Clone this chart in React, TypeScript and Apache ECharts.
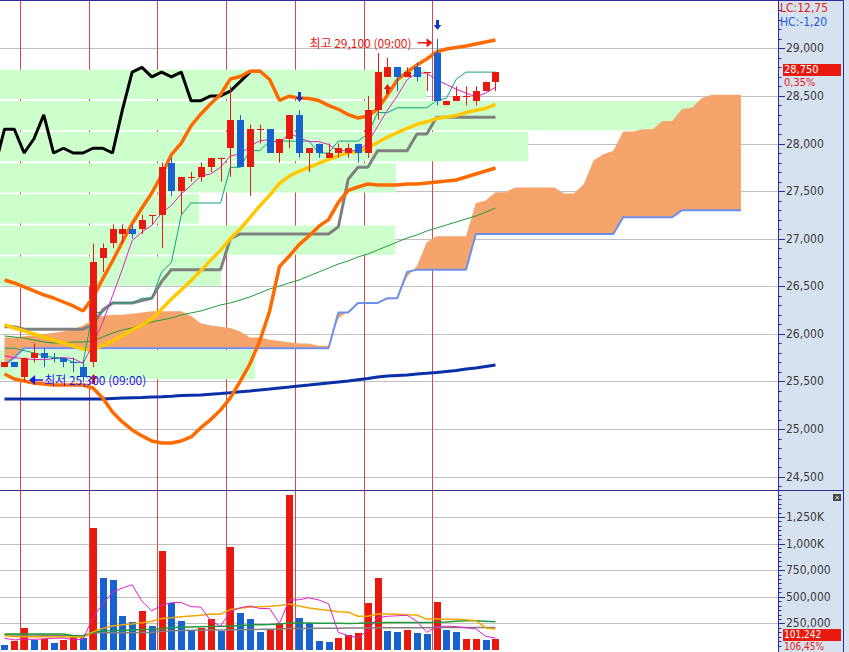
import React, { useEffect, useRef } from "react";
import * as echarts from "echarts";

// ---------- 60-minute bars (oldest -> newest) ----------
const opens = [25650, 25700, 25550, 25750, 25800, 25750, 25750, 25700, 25650, 25700,
  26800, 26950, 27050, 27100, 27100, 27250, 27250, 27800, 27500, 27650,
  27650, 27750, 27850, 27950, 28250, 27750, 28150, 28150, 27900, 28050,
  28300, 27900, 28000, 27850, 27900, 27900, 28000, 27900, 28350, 28700,
  28800, 28700, 28800, 28750, 28950, 28400, 28450, 28500, 28450, 28550, 28650];
const highs = [25700, 25700, 25750, 25900, 25850, 25800, 25750, 25750, 25700, 26950,
  26950, 27150, 27150, 27150, 27250, 27250, 27800, 27850, 27650, 27700,
  27800, 27850, 27850, 28600, 28300, 28200, 28200, 28150, 28050, 28300,
  28350, 27950, 28000, 28000, 28000, 28000, 28000, 28500, 28950, 28900,
  28800, 28800, 28850, 28750, 29100, 28450, 28600, 28600, 28600, 28650, 28750];
const lows = [25650, 25650, 25500, 25700, 25650, 25700, 25650, 25600, 25500, 25650,
  26650, 26900, 26950, 27000, 27050, 27150, 26900, 27450, 27250, 27600,
  27600, 27700, 27600, 27650, 27750, 27450, 28000, 27900, 27800, 27950,
  27850, 27700, 27850, 27850, 27850, 27850, 27800, 27850, 28250, 28700,
  28550, 28700, 28650, 28550, 28400, 28400, 28450, 28400, 28400, 28550, 28550];
const closes = [25700, 25650, 25750, 25800, 25750, 25750, 25700, 25700, 25550, 26750,
  26900, 27100, 27100, 27050, 27200, 27250, 27750, 27500, 27650, 27650,
  27750, 27850, 27850, 28250, 27750, 28150, 28150, 27900, 28050, 28300,
  27900, 27950, 27900, 27900, 27950, 27950, 27900, 28350, 28750, 28800,
  28700, 28750, 28700, 28750, 28450, 28450, 28500, 28500, 28550, 28650, 28750];

// ---------- traded volume ----------
const volumes = [50000, 81000, 203000, 94000, 100000, 69000, 97000, 122000, 109000, 1143000,
  680000, 654000, 322000, 266000, 369000, 222000, 927000, 442000, 269000, 175000,
  203000, 288000, 179000, 964000, 350000, 288000, 165000, 188000, 257000, 1453000,
  297000, 257000, 87000, 78000, 109000, 141000, 156000, 438000, 673000, 175000,
  165000, 184000, 156000, 147000, 447000, 184000, 165000, 100000, 100000, 95107, 101242];
// 1 = volume bar drawn as rising (red), 0 = falling (blue)
const volumeRising = [0, 1, 1, 0, 1, 0, 1, 1, 0, 1,
  0, 0, 0, 0, 1, 0, 1, 0, 0, 0,
  1, 1, 0, 1, 0, 0, 0, 1, 1, 1,
  0, 0, 0, 0, 1, 1, 1, 1, 1, 0,
  0, 1, 0, 0, 1, 0, 0, 1, 1, 0, 1];

// first bar (09:00) of each session
const sessionStarts = [2, 9, 16, 23, 30, 37, 44];

// ---------- price overlays ----------
const bollingerUpper = [26566, 26535, 26493, 26451, 26409, 26377, 26335, 26293, 26241, 26381,
  26577, 26766, 26965, 27160, 27323, 27480, 27669, 27884, 28005, 28186,
  28310, 28418, 28515, 28678, 28704, 28759, 28762, 28672, 28454, 28497,
  28477, 28473, 28451, 28400, 28359, 28303, 28268, 28289, 28362, 28509,
  28667, 28751, 28825, 28888, 28961, 28993, 29008, 29024, 29045, 29066, 29087];
const bollingerMid = [26094, 26062, 26031, 25999, 25967, 25936, 25904, 25873, 25841, 25831,
  25878, 25926, 25983, 26041, 26094, 26160, 26262, 26367, 26462, 26562,
  26665, 26775, 26880, 27002, 27102, 27222, 27345, 27455, 27580, 27658,
  27708, 27750, 27790, 27832, 27870, 27905, 27912, 27955, 28010, 28068,
  28115, 28160, 28202, 28228, 28262, 28278, 28295, 28325, 28350, 28368, 28410];
const bollingerLower = [25579, 25526, 25505, 25484, 25474, 25463, 25463, 25463, 25463, 25432,
  25327, 25180, 25075, 24991, 24928, 24875, 24854, 24854, 24875, 24917,
  25015, 25100, 25200, 25327, 25501, 25686, 25928, 26238, 26706, 26818,
  26938, 27027, 27129, 27200, 27381, 27507, 27543, 27575, 27564, 27564,
  27564, 27575, 27575, 27585, 27596, 27606, 27617, 27648, 27680, 27711, 27743];
const longMA = [25316, 25316, 25316, 25316, 25316, 25316, 25316, 25316, 25316, 25316,
  25316, 25322, 25327, 25330, 25333, 25337, 25340, 25345, 25352, 25356,
  25358, 25367, 25374, 25382, 25393, 25401, 25411, 25421, 25432, 25442,
  25453, 25463, 25474, 25484, 25495, 25505, 25519, 25532, 25547, 25558,
  25563, 25568, 25579, 25586, 25594, 25605, 25616, 25631, 25642, 25658, 25673];
const midMA = [25978, 25967, 25957, 25936, 25915, 25904, 25904, 25915, 25915, 25925,
  25967, 26009, 26041, 26062, 26094, 26125, 26146, 26167, 26199, 26220,
  26241, 26272, 26304, 26325, 26356, 26388, 26430, 26472, 26503, 26535,
  26566, 26608, 26650, 26692, 26734, 26766, 26808, 26839, 26881, 26923,
  26965, 27007, 27039, 27081, 27112, 27144, 27175, 27207, 27238, 27280, 27322];
const ma5 = [25770, 25750, 25740, 25730, 25730, 25740, 25750, 25740, 25690, 25890,
  26120, 26400, 26680, 26980, 27070, 27140, 27270, 27350, 27470, 27560,
  27660, 27680, 27750, 27870, 27890, 27970, 28030, 28040, 28000, 28110,
  28060, 28020, 28020, 27990, 27920, 27930, 27920, 28010, 28180, 28350,
  28500, 28670, 28740, 28740, 28670, 28620, 28570, 28530, 28490, 28530, 28590];

// Ichimoku
const tenkan = [25850, 25850, 25825, 25800, 25775, 25750, 25750, 25700, 25700, 26225,
  26225, 26325, 26325, 26325, 26375, 26375, 26650, 26750, 27250, 27375,
  27375, 27375, 27375, 27750, 27750, 27925, 27925, 28025, 28025, 28025,
  28025, 28025, 27900, 27900, 28025, 28025, 28025, 28100, 28325, 28325,
  28375, 28375, 28375, 28375, 28450, 28475, 28675, 28750, 28750, 28750, 28750];
const kijun = [26075, 26075, 26050, 26050, 26050, 26050, 26050, 26050, 26050, 26100,
  26250, 26325, 26325, 26325, 26350, 26375, 26550, 26675, 26675, 26675,
  26675, 26675, 26675, 27000, 27050, 27050, 27050, 27050, 27050, 27050,
  27050, 27050, 27050, 27050, 27125, 27625, 27750, 27750, 27925, 27925,
  27925, 27925, 28100, 28100, 28275, 28275, 28275, 28275, 28275, 28275, 28275];
const leadingSpanA = [25962.5, 25962.5, 25975, 25987.5, 26000, 26012.5, 26025, 26050, 26087.5, 26150,
  26187.5, 26200, 26200, 26212.5, 26225, 26237.5, 26237.5, 26237.5, 26237.5, 26187.5,
  26112.5, 26087.5, 26075, 26062.5, 26025, 25962.5, 25962.5, 25937.5, 25925, 25912.5,
  25900, 25900, 25875, 25875, 26162.5, 26237.5, 26325, 26325, 26325, 26362.5,
  26375, 26600, 26712.5, 26962.5, 27025, 27025, 27025, 27025, 27375, 27400,
  27487.5, 27487.5, 27537.5, 27537.5, 27537.5, 27537.5, 27537.5, 27475, 27475, 27575,
  27825, 27887.5, 27925, 28125, 28125, 28150, 28150, 28237.5, 28237.5, 28362.5,
  28375, 28475, 28512.5, 28512.5, 28512.5, 28512.5];
const leadingSpanB = [25675, 25750, 25850, 25850, 25850, 25850, 25850, 25850, 25850, 25850,
  25850, 25850, 25850, 25850, 25850, 25850, 25850, 25850, 25850, 25850,
  25850, 25850, 25850, 25850, 25850, 25850, 25850, 25850, 25850, 25850,
  25850, 25850, 25850, 25850, 26225, 26225, 26325, 26325, 26325, 26375,
  26375, 26650, 26675, 26675, 26675, 26675, 26675, 26675, 27050, 27050,
  27050, 27050, 27050, 27050, 27050, 27050, 27050, 27050, 27050, 27050,
  27050, 27050, 27050, 27225, 27225, 27225, 27225, 27225, 27225, 27300,
  27300, 27300, 27300, 27300, 27300, 27300];
const LAGGING_SHIFT = 25;

// ---------- volume averages ----------
const volMA5 = [110000, 95000, 100000, 100000, 105600, 109400, 112600, 96400, 99400, 308000,
  430200, 541600, 581600, 613000, 458200, 366600, 421200, 445200, 445800, 407000,
  403200, 275400, 222800, 361800, 396800, 413800, 389200, 391000, 249600, 470200,
  472000, 490400, 470200, 434400, 165600, 134400, 114200, 184400, 303400, 316600,
  321400, 327000, 270600, 165400, 219800, 223600, 219800, 208600, 199200, 128820, 112270];
const volMA20 = [134000, 128000, 125000, 125000, 125000, 125000, 125000, 122000, 118000, 170000,
  203000, 226000, 238000, 244000, 255000, 270000, 297000, 304000, 312000, 319700,
  327350, 337700, 336500, 380000, 392500, 403450, 406850, 410150, 417550, 433050,
  413900, 394050, 382300, 372900, 359900, 355850, 317300, 317100, 337300, 337300,
  335400, 330200, 329050, 288200, 293050, 287850, 287850, 283450, 275600, 207700, 197900];
const volMA60 = [150000, 150000, 150000, 150000, 150000, 150000, 150000, 134000, 134000, 165000,
  181000, 183000, 186000, 189000, 192000, 195000, 200000, 212000, 214000, 216000,
  218000, 220000, 222000, 224000, 230000, 235000, 238000, 240000, 244000, 254000,
  254000, 253000, 252000, 252000, 251000, 250000, 252000, 255000, 257000, 258000,
  258000, 258000, 259000, 259000, 260000, 262000, 270000, 275000, 274000, 270000, 266000];
const volMA120 = [143000, 142000, 141000, 140000, 139000, 138000, 137000, 136000, 135000, 160000,
  161000, 162000, 163000, 163000, 164000, 165000, 175000, 181000, 183000, 185000,
  186000, 187000, 188000, 190000, 191000, 193000, 194000, 196000, 197000, 203000,
  203000, 203000, 204000, 204000, 205000, 206000, 207000, 208000, 209000, 209000,
  210000, 210000, 210000, 210000, 212000, 212000, 212000, 212000, 212000, 212000, 212000];

// ---------- price-by-volume histogram (bin edges high -> low) ----------
const profileEdges = [28780, 28453, 28126, 27799, 27472, 27145, 26818, 26491, 26164, 25837, 25510];
const profileVolumes = [548, 906, 679, 509, 256, 508, 284, 0, 0, 328];

// ---------- signals and extremes ----------
const sellSignals = [30, 44];
const buySignals = [9, 39];
const periodHigh = { index: 44, price: 29100, time: "09:00" };
const periodLow = { index: 2, price: 25300, time: "09:00" };

// ---------- axis ticks ----------
const priceTicks = [24500, 25000, 25500, 26000, 26500, 27000, 27500, 28000, 28500, 29000];
const volumeTicks = [250000, 500000, 750000, 1000000, 1250000];

// ---------- styling ----------
const RED = "#E8190E";
const BLUE = "#1862D0";
const NAVY = "#2B2B9E";
const AXIS_FONT = "'Liberation Sans Narrow', 'DejaVu Sans Condensed', 'Liberation Sans', sans-serif";
const KR_FONT = "'Noto Sans CJK KR', 'Noto Sans', sans-serif";

const X_MIN = -0.458;
const X_MAX = 78.77;
const P_MIN = 24360;
const P_MAX = 29497;
const V_MAX = 1494000;

const priceMinorTicks: number[] = [];
for (let p = 24400; p <= 29400; p += 100) priceMinorTicks.push(p);
const volumeMinorTicks: number[] = [];
for (let k = 1; (k * 250000) / 6 < V_MAX; k++) volumeMinorTicks.push(Math.round((k * 250000) / 6));

const fmt = (v: number) => v.toLocaleString("en-US");
const fmtVolume = (v: number) => (v >= 1000000 ? fmt(v / 1000) + "K" : fmt(v));
const fmtPct = (v: number) => v.toFixed(2).replace(".", ",") + "%";

const indexed = (arr: number[], start = 0) => arr.map((v, i) => [i + start, v]);

// candle colour: body direction, dojis fall back to change vs previous close, then previous colour
const candleDirs: number[] = [];
closes.forEach((c, i) => {
  const o = opens[i];
  let d = c > o ? 1 : c < o ? -1 : 0;
  if (d === 0) {
    const prev = i > 0 ? closes[i - 1] : c;
    d = c > prev ? 1 : c < prev ? -1 : i > 0 ? candleDirs[i - 1] : 1;
  }
  candleDirs.push(d);
});

const line = (data: number[][], color: string, width: number, z: number, xAxisIndex = 0, yAxisIndex = 0) => ({
  type: "line",
  data,
  xAxisIndex,
  yAxisIndex,
  showSymbol: false,
  symbol: "none",
  silent: true,
  z,
  lineStyle: { color, width },
  itemStyle: { color },
});

// horizontal grid line across the pane plus a long tick stub on the right axis
const gridLines = (ticks: number[], axisIndex: number) => ({
  type: "custom",
  xAxisIndex: axisIndex,
  yAxisIndex: axisIndex,
  silent: true,
  clip: false,
  z: 0,
  data: ticks.map((t) => [0, t]),
  renderItem: (params: any, api: any) => {
    const cs = params.coordSys;
    const y = Math.round(api.coord([0, api.value(1)])[1]) + 0.5;
    const right = cs.x + cs.width;
    return {
      type: "group",
      children: [
        { type: "line", shape: { x1: cs.x, y1: y, x2: right, y2: y }, style: { stroke: "#C0C0C0", lineWidth: 1 } },
        { type: "line", shape: { x1: right, y1: y, x2: right + 7, y2: y }, style: { stroke: NAVY, lineWidth: 1 } },
      ],
    };
  },
});

// short tick stubs on the right axis
const minorTicks = (ticks: number[], axisIndex: number) => ({
  type: "custom",
  xAxisIndex: axisIndex,
  yAxisIndex: axisIndex,
  silent: true,
  clip: false,
  z: 0,
  data: ticks.map((t) => [0, t]),
  renderItem: (params: any, api: any) => {
    const cs = params.coordSys;
    const y = Math.round(api.coord([0, api.value(1)])[1]) + 0.5;
    if (y < cs.y || y > cs.y + cs.height) return null;
    const right = cs.x + cs.width;
    return { type: "line", shape: { x1: right, y1: y, x2: right + 3.5, y2: y }, style: { stroke: NAVY, lineWidth: 1 } };
  },
});

const sessionLines = (axisIndex: number) => ({
  type: "custom",
  xAxisIndex: axisIndex,
  yAxisIndex: axisIndex,
  silent: true,
  z: 1,
  data: sessionStarts.map((d) => [d, 0]),
  renderItem: (params: any, api: any) => {
    const cs = params.coordSys;
    const x = Math.round(api.coord([api.value(0) - 0.43, 0])[0]) + 0.5;
    return {
      type: "line",
      shape: { x1: x, y1: cs.y, x2: x, y2: cs.y + cs.height },
      style: { stroke: "#DC4848", lineWidth: 1 },
    };
  },
});

const App = () => {
  const ref = useRef<HTMLDivElement>(null);

  useEffect(() => {
    document.body.style.margin = "0";
    const chart = echarts.init(ref.current!, null, { renderer: "svg" });

    const axisLabel = (ticks: number[], formatter: (v: number) => string) => ({
      show: true,
      customValues: ticks,
      formatter,
      margin: 8,
      color: "#3A3A3A",
      fontSize: 12,
      fontFamily: AXIS_FONT,
    });

    const option: any = {
      animation: false,
      grid: [
        { left: 0, top: 1, width: 778, height: 489, show: false, outerBoundsMode: "none" },
        { left: 0, top: 491, width: 778, height: 159, show: false, outerBoundsMode: "none" },
      ],
      xAxis: [
        { type: "value", gridIndex: 0, min: X_MIN, max: X_MAX, show: false },
        { type: "value", gridIndex: 1, min: X_MIN, max: X_MAX, show: false },
        { type: "value", gridIndex: 0, min: 0, max: 1000, show: false },
      ],
      yAxis: [
        {
          type: "value", gridIndex: 0, position: "right", min: P_MIN, max: P_MAX,
          axisLine: { show: true, onZero: false, lineStyle: { color: NAVY, width: 1 } },
          axisTick: { show: false },
          axisLabel: axisLabel(priceTicks, fmt),
          splitLine: { show: false },
        },
        {
          type: "value", gridIndex: 1, position: "right", min: 0, max: V_MAX,
          axisLine: { show: true, onZero: false, lineStyle: { color: NAVY, width: 1 } },
          axisTick: { show: false },
          axisLabel: axisLabel(volumeTicks, fmtVolume),
          splitLine: { show: false },
        },
      ],
      series: [
        gridLines(priceTicks, 0),
        gridLines(volumeTicks, 1),
        minorTicks(priceMinorTicks, 0),
        minorTicks(volumeMinorTicks, 1),
        sessionLines(0),
        sessionLines(1),
        // price-by-volume histogram
        {
          type: "custom",
          xAxisIndex: 2,
          yAxisIndex: 0,
          silent: true,
          z: 2,
          data: profileVolumes.map((v, k) => [v, profileEdges[k], profileEdges[k + 1]]),
          renderItem: (params: any, api: any) => {
            const v = api.value(0);
            if (v <= 0) return null;
            const a = api.coord([0, api.value(1)]);
            const b = api.coord([v, api.value(2)]);
            return {
              type: "rect",
              shape: { x: a[0], y: a[1] + 0.5, width: b[0] - a[0], height: b[1] - a[1] - 1.8 },
              style: { fill: "#CCFFCC" },
            };
          },
        },
        // Ichimoku cloud
        {
          type: "custom",
          xAxisIndex: 0,
          yAxisIndex: 0,
          silent: true,
          z: 3,
          data: [[0, leadingSpanA[0]]],
          renderItem: (params: any, api: any) => {
            const pts: number[][] = [];
            leadingSpanA.forEach((v, j) => pts.push(api.coord([j, v])));
            for (let j = leadingSpanB.length - 1; j >= 0; j--) pts.push(api.coord([j, leadingSpanB[j]]));
            return { type: "polygon", shape: { points: pts }, style: { fill: "#F5A46C" } };
          },
        },
        line(indexed(leadingSpanB), "#6D8FEA", 2, 4),
        line(indexed(longMA), "#0A30A8", 3, 5),
        line(indexed(midMA), "#1E9B3C", 1, 5),
        line(indexed(closes.slice(LAGGING_SHIFT - 1), -1), "#000000", 3, 5),
        line(indexed(kijun), "#808080", 3, 5),
        line(indexed(bollingerMid), "#FFC800", 3.5, 6),
        line(indexed(bollingerUpper), "#FF6A00", 3.5, 6),
        line(indexed(bollingerLower), "#FF6A00", 3.5, 6),
        line(indexed(tenkan), "#10A080", 1, 7),
        line(indexed(ma5), "#E020C8", 1, 7),
        // candles
        {
          type: "custom",
          xAxisIndex: 0,
          yAxisIndex: 0,
          silent: true,
          z: 10,
          data: opens.map((o, i) => [i, o, closes[i], lows[i], highs[i], candleDirs[i]]),
          renderItem: (params: any, api: any) => {
            const i = api.value(0);
            const color = api.value(5) > 0 ? RED : BLUE;
            const pO = api.coord([i, api.value(1)]);
            const yC = api.coord([i, api.value(2)])[1];
            const yL = api.coord([i, api.value(3)])[1];
            const yH = api.coord([i, api.value(4)])[1];
            const rx = Math.round(pO[0]);
            const cx = rx + 0.5;
            const left = rx - 3;
            const top = Math.round(Math.min(pO[1], yC));
            const bottom = Math.round(Math.max(pO[1], yC));
            const children: any[] = [
              { type: "line", shape: { x1: cx, y1: yH, x2: cx, y2: yL }, style: { stroke: color, lineWidth: 1 } },
            ];
            if (bottom - top < 1) {
              children.push({
                type: "line",
                shape: { x1: left, y1: top + 0.5, x2: left + 7, y2: top + 0.5 },
                style: { stroke: color, lineWidth: 1 },
              });
            } else {
              children.push({
                type: "rect",
                shape: { x: left, y: top, width: 7, height: bottom - top },
                style: { fill: color },
              });
            }
            return { type: "group", children };
          },
        },
        // sell signals above the bar high
        {
          type: "custom",
          xAxisIndex: 0,
          yAxisIndex: 0,
          silent: true,
          z: 11,
          data: sellSignals.map((i) => [i, highs[i]]),
          renderItem: (params: any, api: any) => {
            const p = api.coord([api.value(0), api.value(1)]);
            const cx = Math.round(p[0]) + 0.5;
            const tip = Math.round(p[1] - 8.5);
            return {
              type: "group",
              children: [
                { type: "rect", shape: { x: cx - 1.5, y: tip - 10, width: 3, height: 5.5 }, style: { fill: "#1038C0" } },
                { type: "polygon", shape: { points: [[cx - 3.8, tip - 5], [cx + 3.8, tip - 5], [cx, tip]] }, style: { fill: "#1038C0" } },
              ],
            };
          },
        },
        // buy signals below the bar low
        {
          type: "custom",
          xAxisIndex: 0,
          yAxisIndex: 0,
          silent: true,
          z: 11,
          data: buySignals.map((i) => [i, lows[i]]),
          renderItem: (params: any, api: any) => {
            const p = api.coord([api.value(0), api.value(1)]);
            const cx = Math.round(p[0]) + 0.5;
            const tip = Math.round(p[1] + 7);
            return {
              type: "group",
              children: [
                { type: "polygon", shape: { points: [[cx, tip], [cx - 3.8, tip + 5], [cx + 3.8, tip + 5]] }, style: { fill: "#E01818" } },
                { type: "rect", shape: { x: cx - 1.5, y: tip + 4.5, width: 3, height: 5.5 }, style: { fill: "#E01818" } },
              ],
            };
          },
        },
        // volume bars
        {
          type: "custom",
          xAxisIndex: 1,
          yAxisIndex: 1,
          silent: true,
          z: 3,
          data: volumes.map((v, i) => [i, v, volumeRising[i]]),
          renderItem: (params: any, api: any) => {
            const i = api.value(0);
            const base = api.coord([i, 0]);
            const topY = Math.round(api.coord([i, api.value(1)])[1]);
            const rx = Math.round(base[0]);
            return {
              type: "rect",
              shape: { x: rx - 3, y: topY, width: 7, height: Math.round(base[1]) - topY },
              style: { fill: api.value(2) > 0 ? RED : BLUE },
            };
          },
        },
        line(indexed(volMA120), "#808080", 1.5, 5, 1, 1),
        line(indexed(volMA60), "#1E9B3C", 1.5, 5, 1, 1),
        line(indexed(volMA20), "#F0A800", 1.5, 5, 1, 1),
        line(indexed(volMA5), "#E020C8", 1, 6, 1, 1),
      ],
    };

    chart.setOption(option);

    const toPx = (x: number, y: number) =>
      chart.convertToPixel({ xAxisIndex: 0, yAxisIndex: 0 } as any, [x, y]) as unknown as number[];
    const toVolPx = (x: number, y: number) =>
      chart.convertToPixel({ xAxisIndex: 1, yAxisIndex: 1 } as any, [x, y]) as unknown as number[];

    const last = closes.length - 1;
    const lastClose = closes[last];
    const closeChange = ((lastClose - closes[last - 1]) / closes[last - 1]) * 100;
    const lastVol = volumes[last];
    const volRatio = (lastVol / volumes[last - 1]) * 100;

    const py = Math.round(toPx(last, lastClose)[1]);
    const vy = Math.round(toVolPx(last, lastVol)[1]);
    const hi = toPx(periodHigh.index, periodHigh.price);
    const lo = toPx(periodLow.index, lows[periodLow.index]);
    const hiTip = [hi[0] - 4, hi[1] + 4];
    const loTip = [lo[0] + 5, lo[1] - 1.5];

    const sideText = (text: string, x: number, y: number, fill: string, size = 11) => ({
      type: "text",
      style: { text, x, y, fill, fontSize: size, fontFamily: AXIS_FONT, align: "left", verticalAlign: "middle" },
      z: 30,
    });

    chart.setOption({
      graphic: [
        { type: "line", shape: { x1: 0, y1: 0.5, x2: 843, y2: 0.5 }, style: { stroke: NAVY, lineWidth: 1 }, z: 20 },
        { type: "line", shape: { x1: 0, y1: 490.5, x2: 843, y2: 490.5 }, style: { stroke: NAVY, lineWidth: 1 }, z: 20 },
        { type: "line", shape: { x1: 843.5, y1: 0, x2: 843.5, y2: 652 }, style: { stroke: NAVY, lineWidth: 1 }, z: 20 },
        { type: "line", shape: { x1: 778.5, y1: 0, x2: 778.5, y2: 652 }, style: { stroke: NAVY, lineWidth: 1 }, z: 20 },
        sideText("LC:12,75", 780, 8, RED, 12),
        sideText("HC:-1,20", 780, 22, "#1A5ADC", 12),
        { type: "rect", shape: { x: 783, y: py - 8, width: 58, height: 12 }, style: { fill: RED }, z: 25 },
        sideText(fmt(lastClose), 784, py - 2.5, "#FFFFFF"),
        sideText(fmtPct(closeChange), 784, py + 10, RED),
        { type: "rect", shape: { x: 783, y: vy - 10, width: 58, height: 12 }, style: { fill: RED }, z: 25 },
        sideText(fmt(lastVol), 784, vy - 4.2, "#FFFFFF", 10),
        sideText(fmtPct(volRatio), 784, vy + 7.2, RED, 10),
        { type: "rect", shape: { x: 833, y: 494, width: 8, height: 7 }, style: { fill: "#4A4A4A" }, z: 20 },
        {
          type: "text",
          style: { text: "×", x: 837, y: 497.5, fill: "#FFFFFF", fontSize: 8, align: "center", verticalAlign: "middle" },
          z: 21,
        },
        // period high marker
        {
          type: "text",
          style: {
            text: `최고 ${fmt(periodHigh.price)} (${periodHigh.time})`,
            x: hiTip[0] - 21, y: hiTip[1], fill: RED, fontSize: 12, fontFamily: KR_FONT,
            align: "right", verticalAlign: "middle",
          },
          z: 20,
        },
        { type: "line", shape: { x1: hiTip[0] - 15, y1: hiTip[1], x2: hiTip[0] - 4, y2: hiTip[1] }, style: { stroke: RED, lineWidth: 1.5 }, z: 20 },
        {
          type: "polygon",
          shape: { points: [[hiTip[0], hiTip[1]], [hiTip[0] - 6, hiTip[1] - 4.5], [hiTip[0] - 6, hiTip[1] + 4.5]] },
          style: { fill: RED },
          z: 20,
        },
        // period low marker
        {
          type: "polygon",
          shape: { points: [[loTip[0], loTip[1]], [loTip[0] + 6, loTip[1] - 5], [loTip[0] + 6, loTip[1] + 5]] },
          style: { fill: "#1A1AE6" },
          z: 20,
        },
        { type: "line", shape: { x1: loTip[0] + 5, y1: loTip[1], x2: loTip[0] + 14, y2: loTip[1] }, style: { stroke: "#1A1AE6", lineWidth: 1.5 }, z: 20 },
        {
          type: "text",
          style: {
            text: `최저 ${fmt(periodLow.price)} (${periodLow.time})`,
            x: loTip[0] + 15, y: loTip[1], fill: "#1A1AE6", fontSize: 12, fontFamily: KR_FONT,
            align: "left", verticalAlign: "middle",
          },
          z: 20,
        },
      ],
    });

    return () => chart.dispose();
  }, []);

  return (
    <div
      ref={ref}
      style={{
        width: 849,
        height: 652,
        background: "linear-gradient(to right, #FFFFFF 778px, #D6E2F0 778px)",
      }}
    />
  );
};

export default App;
